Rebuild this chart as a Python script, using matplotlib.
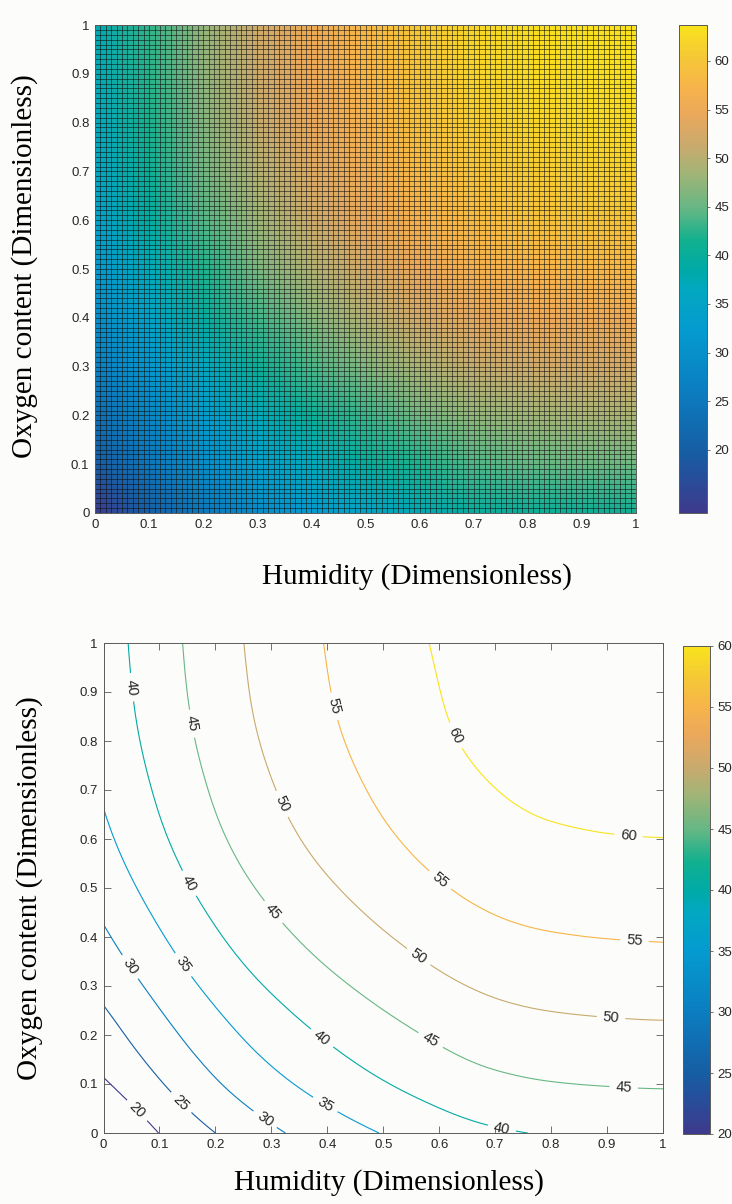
import numpy as np
import matplotlib
matplotlib.use('Agg')
import matplotlib.pyplot as plt
from matplotlib.colors import LinearSegmentedColormap, Normalize
from matplotlib.cm import ScalarMappable
from matplotlib.tri import Triangulation, UniformTriRefiner

# values (grid at 0, 0.1, ..., 1)
humidity = [0.0, 0.1, 0.2, 0.3, 0.4, 0.5, 0.6, 0.7, 0.8, 0.9, 1.0]
oxygen = [0.0, 0.1, 0.2, 0.3, 0.4, 0.5, 0.6, 0.7, 0.8, 0.9, 1.0]
# rows = oxygen content, columns = humidity
field = [
    [13.5, 20.1, 25.0, 29.1, 32.4, 35.2, 37.6, 39.4, 40.3, 40.7, 40.9],
    [19.4, 24.6, 29.5, 33.6, 36.9, 39.7, 42.1, 43.9, 44.8, 45.2, 45.4],
    [23.0, 28.2, 33.1, 37.2, 40.5, 43.3, 45.7, 47.5, 48.4, 48.8, 49.0],
    [26.3, 31.5, 36.4, 40.5, 43.8, 46.6, 49.0, 50.8, 51.7, 52.1, 52.3],
    [29.3, 34.5, 39.4, 43.5, 46.8, 49.6, 52.0, 53.8, 54.7, 55.1, 55.3],
    [31.9, 37.1, 42.0, 46.1, 49.4, 52.2, 54.6, 56.4, 57.3, 57.7, 57.9],
    [34.0, 39.2, 44.1, 48.2, 51.5, 54.3, 56.7, 58.5, 59.4, 59.8, 59.95],
    [35.5, 40.7, 45.6, 49.7, 53.0, 55.8, 58.2, 59.95, 60.9, 61.3, 61.5],
    [36.6, 41.8, 46.7, 50.8, 54.1, 56.9, 59.3, 61.1, 62.0, 62.4, 62.6],
    [37.3, 42.5, 47.4, 51.5, 54.8, 57.6, 59.95, 61.8, 62.7, 63.1, 63.3],
    [37.7, 42.9, 47.8, 51.9, 55.2, 58.0, 60.4, 62.2, 63.1, 63.5, 63.7],
]
contour_levels = [20, 25, 30, 35, 40, 45, 50, 55, 60]
axis_ticks = [0, 0.1, 0.2, 0.3, 0.4, 0.5, 0.6, 0.7, 0.8, 0.9, 1]
cbar_ticks = [20, 25, 30, 35, 40, 45, 50, 55, 60]
xlabel = 'Humidity (Dimensionless)'
ylabel = 'Oxygen content (Dimensionless)'

# parula as it looks in the picture
parula = LinearSegmentedColormap.from_list('parula', [
    (0.000, '#3e3a8c'),
    (0.060, '#2a4b98'),
    (0.125, '#165ea4'),
    (0.250, '#0b7ec0'),
    (0.375, '#049bd0'),
    (0.460, '#02a8bf'),
    (0.500, '#00aaa6'),
    (0.560, '#12b08e'),
    (0.625, '#66b784'),
    (0.700, '#a4b476'),
    (0.750, '#c8aa6e'),
    (0.820, '#eba85b'),
    (0.875, '#f7b44a'),
    (0.940, '#f5c935'),
    (1.000, '#f9e31c'),
])

bg = '#fcfcfa'
txt = '#262626'
edge = '#5a5a5a'
tick_font = 'Liberation Sans'
label_font = 'Liberation Serif'

W, H = 732, 1204
fig = plt.figure(figsize=(W / 100, H / 100), dpi=100, facecolor=bg)


def box(l, t, r, b):
    return [l / W, 1 - b / H, (r - l) / W, (b - t) / H]


X, Y = np.meshgrid(humidity, oxygen)
Z = np.array(field)


def style_axes(ax, ticklen):
    ax.set_xlim(0, 1)
    ax.set_ylim(0, 1)
    ax.set_xticks(axis_ticks)
    ax.set_yticks(axis_ticks)
    ax.set_xticklabels([f'{t:g}' for t in axis_ticks])
    ax.set_yticklabels([f'{t:g}' for t in axis_ticks])
    ax.tick_params(direction='in', length=ticklen, width=0.6, color=edge,
                   labelsize=9.5, labelcolor=txt, top=True, right=True, pad=4)
    for lab in ax.get_xticklabels() + ax.get_yticklabels():
        lab.set_fontfamily(tick_font)
    for s in ax.spines.values():
        s.set_color(edge)
        s.set_linewidth(0.7)


def style_cbar(cb):
    cb.set_ticks(cbar_ticks)
    cb.outline.set_edgecolor(edge)
    cb.outline.set_linewidth(0.7)
    cb.ax.tick_params(direction='out', length=2.5, width=0.6, color=edge,
                      labelsize=9.5, labelcolor=txt, pad=3)
    for lab in cb.ax.get_yticklabels():
        lab.set_fontfamily(tick_font)


# top panel: surface seen from above with the mesh edges
ax1 = fig.add_axes(box(95, 25, 636, 513))
mesh = ax1.pcolormesh(X, Y, Z, shading='gouraud', cmap=parula)
cells = np.linspace(0, 1, 101)
ax1.vlines(cells, 0, 1, colors='#101010', linewidth=0.5, alpha=0.8)
ax1.hlines(cells, 0, 1, colors='#101010', linewidth=0.5, alpha=0.8)
style_axes(ax1, 0)
cax1 = fig.add_axes(box(679, 25, 707, 513))
style_cbar(fig.colorbar(mesh, cax=cax1))

# bottom panel: labelled contours (smoothed by matplotlib's tri refiner)
ax2 = fig.add_axes(box(103.5, 643, 663, 1133))
ax2.set_facecolor(bg)
norm = Normalize(vmin=20, vmax=60)
tri = Triangulation(X.ravel(), Y.ravel())
tri_fine, z_fine = UniformTriRefiner(tri).refine_field(Z.ravel(), subdiv=3)
cs = ax2.tricontour(tri_fine, z_fine, levels=contour_levels, cmap=parula,
                    norm=norm, linewidths=0.8)
label_spots = [
    (0.045, 0.909), (0.161, 0.836), (0.417, 0.872), (0.640, 0.817),
    (0.328, 0.676), (0.939, 0.616), (0.609, 0.526), (0.157, 0.512),
    (0.309, 0.456), (0.949, 0.393), (0.564, 0.361), (0.045, 0.337),
    (0.141, 0.342), (0.907, 0.232), (0.392, 0.196), (0.587, 0.194),
    (0.930, 0.100), (0.061, 0.047), (0.149, 0.074), (0.295, 0.038),
    (0.410, 0.084), (0.713, 0.015),
]
clabels = ax2.clabel(cs, manual=label_spots, inline=True, inline_spacing=5,
                     fontsize=10.5, colors=txt, fmt='%d')
for t in clabels:
    t.set_fontfamily(tick_font)
style_axes(ax2, 5)
cax2 = fig.add_axes(box(683, 646, 710, 1134))
style_cbar(fig.colorbar(ScalarMappable(norm=norm, cmap=parula), cax=cax2))

# axis titles
fig.text(417 / W, 1 - 577 / H, xlabel, ha='center', va='center',
         fontsize=21, family=label_font, color='black')
fig.text(25 / W, 1 - 266 / H, ylabel, ha='center', va='center', rotation=90,
         fontsize=21, family=label_font, color='black')
fig.text(389 / W, 1 - 1183 / H, xlabel, ha='center', va='center',
         fontsize=21, family=label_font, color='black')
fig.text(30 / W, 1 - 888 / H, ylabel, ha='center', va='center', rotation=90,
         fontsize=21, family=label_font, color='black')

fig.savefig('out.png', dpi=100, facecolor=bg)
